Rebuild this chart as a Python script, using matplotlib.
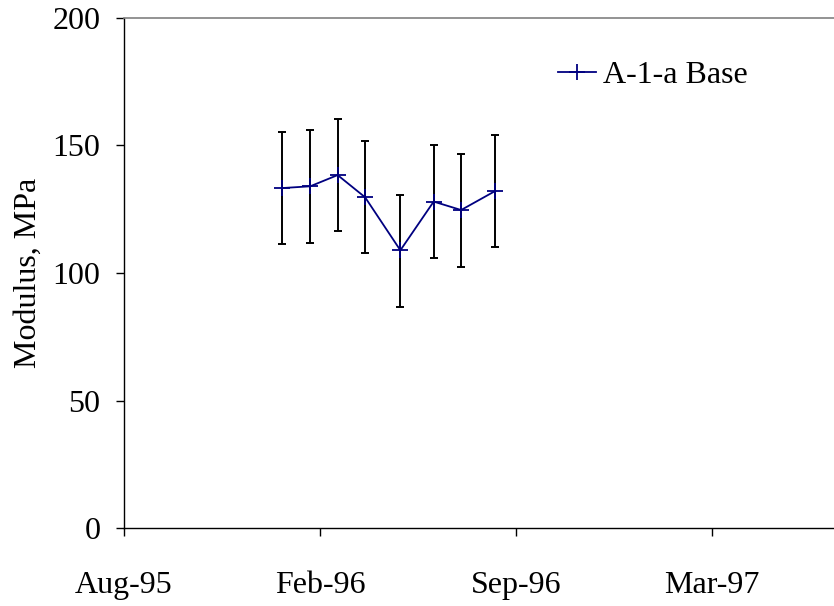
import matplotlib
matplotlib.use("Agg")
import matplotlib.pyplot as plt
import numpy as np
import pandas as pd

plt.rcParams['font.family'] = ['Liberation Serif', 'DejaVu Serif']

# Data
dates = ["1996-01-16", "1996-02-14", "1996-03-13", "1996-04-10",
         "1996-05-16", "1996-06-19", "1996-07-17", "1996-08-21"]
modulus = [133.3, 134.0, 138.4, 129.7, 108.9, 128.0, 124.7, 132.2]
upper = [155.2, 156.0, 160.4, 151.8, 130.6, 150.2, 146.5, 154.1]
lower = [111.2, 111.9, 116.5, 107.7, 86.8, 106.0, 102.5, 110.2]
tick_labels = ["Aug-95", "Feb-96", "Sep-96", "Mar-97"]
yticks = [0, 50, 100, 150, 200]
series_name = "A-1-a Base"

origin = pd.Timestamp("1995-08-08")
x = np.array([(pd.Timestamp(d) - origin).days for d in dates], dtype=float)
y = np.array(modulus)
yerr = np.vstack([y - np.array(lower), np.array(upper) - y])
xticks = [0, 200, 400, 600]

fig = plt.figure(figsize=(8.34, 6.06), dpi=100)
ax = fig.add_axes([124/834, 1-528/606, 1-124/834, (528-18)/606])

ax.errorbar(x, y, yerr=yerr, fmt='none', ecolor='black', elinewidth=1.4,
            capsize=3, capthick=1.4, zorder=2)
ax.plot(x, y, color='#000080', lw=1.3, marker='+', markersize=12,
        markeredgewidth=1.3, label=series_name, zorder=3)

ax.set_xlim(0, (834-124)/0.98)
ax.set_ylim(0, 200)
ax.set_xticks(xticks)
ax.set_xticklabels(tick_labels)
ax.set_yticks(yticks)
ax.tick_params(axis='both', direction='out', length=6, width=1, labelsize=23, colors='black')
ax.tick_params(axis='x', pad=25)
ax.tick_params(axis='y', pad=11)

ax.spines['right'].set_visible(False)
ax.spines['top'].set_color('#808080')
ax.spines['top'].set_linewidth(1.2)
ax.spines['left'].set_linewidth(1.0)
ax.spines['bottom'].set_linewidth(1.0)

ax.set_ylabel("Modulus, MPa", fontsize=23, labelpad=7)

leg = ax.legend(loc='upper left', bbox_to_anchor=((558-124)/710, 1-(61-18)/510),
                frameon=False, fontsize=23, handlelength=1.2, handletextpad=0.2,
                borderaxespad=0, borderpad=0)

fig.savefig("out.png", dpi=100)
